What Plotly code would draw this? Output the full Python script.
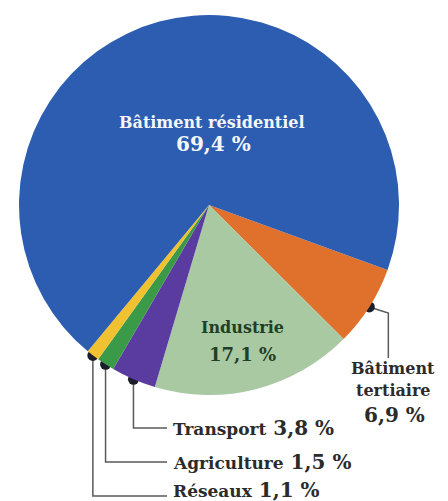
import math
import plotly.graph_objects as go

# ---- data ----
labels = ["Bâtiment tertiaire", "Industrie", "Transport", "Agriculture", "Réseaux", "Bâtiment résidentiel"]
values = [6.9, 17.1, 3.8, 1.5, 1.1, 69.4]
value_text = ["6,9 %", "17,1 %", "3,8 %", "1,5 %", "1,1 %", "69,4 %"]
colors = ["#e0712c", "#a9c9a3", "#5a3b9f", "#3b9a48", "#f0c232", "#2c5db0"]

# page has an 8px body margin: figure occupies screen pixels 8..448 x 8..501
OFF = 8
SW, SH = 448, 501
W, H = SW - OFF, SH - OFF
CX, CY, R = 209, 205, 190          # pie centre / radius in screen pixels
ROT = 110

FONT = "DejaVu Serif, serif"

fig = go.Figure()
fig.add_trace(go.Pie(
    labels=labels, values=values, sort=False, direction="clockwise",
    rotation=ROT, textinfo="none", hoverinfo="label+percent",
    marker=dict(colors=colors, line=dict(width=0)),
    domain=dict(x=[(CX - R - OFF) / W, (CX + R - OFF) / W],
                y=[(SH - CY - R) / H, (SH - CY + R) / H]),
    showlegend=False,
))

# slice mid angles -> dot positions on the rim
total = sum(values)
cum = 0
mids = []
for v in values:
    a = math.radians(ROT + (cum + v / 2) * 360 / total)
    mids.append((CX + R * math.sin(a), CY - R * math.cos(a)))
    cum += v

line_color = "#5a5a5a"
# Bâtiment tertiaire leader
dx, dy = mids[0]
fig.add_trace(go.Scatter(x=[dx, dx + 19, dx + 19], y=[dy, dy + 6, 358], mode="lines",
                         line=dict(color=line_color, width=1.5), hoverinfo="skip", showlegend=False))
# small slices leaders
line_y = {2: 428, 3: 462, 4: 496}
text_y = {2: 428, 3: 462, 4: 490}
for i, ly in line_y.items():
    x0, y0 = mids[i]
    fig.add_trace(go.Scatter(x=[x0, x0, 167], y=[y0, ly, ly], mode="lines",
                             line=dict(color=line_color, width=1.5), hoverinfo="skip", showlegend=False))
# dots
dot_idx = [0, 2, 3, 4]
fig.add_trace(go.Scatter(x=[mids[i][0] for i in dot_idx], y=[mids[i][1] for i in dot_idx],
                         mode="markers", marker=dict(size=11, color="#1b1d2a"),
                         hoverinfo="skip", showlegend=False))

white = "#f4f6fa"
dark = "#2b2b2b"
green_dark = "#1f3f28"


def f(size, color):
    return dict(family=FONT, size=size, color=color, weight="bold")


ann = [
    dict(x=211, y=122, text=labels[5], font=f(16, white)),
    dict(x=213, y=144, text=value_text[5], font=f(20, white)),
    dict(x=242, y=327, text=labels[1], font=f(16, green_dark)),
    dict(x=242, y=354, text=value_text[1], font=f(18, green_dark)),
    dict(x=393, y=368, text="Bâtiment", font=f(16, dark)),
    dict(x=393, y=390, text="tertiaire", font=f(16, dark)),
    dict(x=394, y=415, text=value_text[0], font=f(20, dark)),
]
for i, ty in text_y.items():
    ann.append(dict(x=171, y=ty, xanchor="left",
                    text=f"{labels[i]}<span style='font-size:20px'> {value_text[i]}</span>",
                    font=f(17, dark)))
for a in ann:
    a.setdefault("xanchor", "center")
    a.update(xref="x", yref="y", yanchor="middle", showarrow=False)

fig.update_layout(
    width=W, height=H, margin=dict(l=0, r=0, t=0, b=0),
    paper_bgcolor="white", plot_bgcolor="rgba(0,0,0,0)",
    xaxis=dict(range=[OFF, SW], visible=False, domain=[0, 1], fixedrange=True),
    yaxis=dict(range=[SH, OFF], visible=False, domain=[0, 1], fixedrange=True),
    annotations=ann,
)

fig.write_html("out.html")
